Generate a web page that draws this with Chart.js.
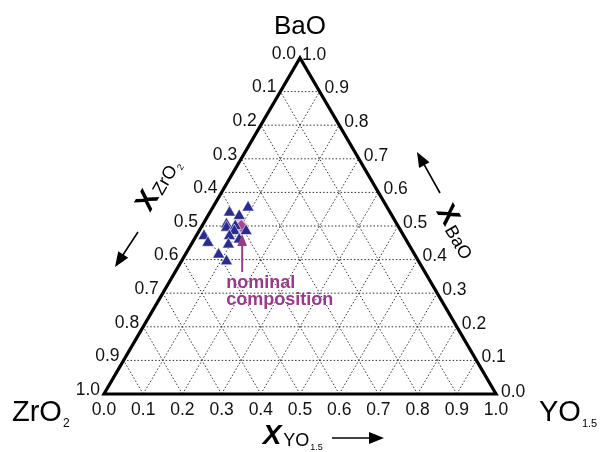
<!DOCTYPE html>
<html>
<head>
<meta charset="utf-8">
<script src="https://cdn.jsdelivr.net/npm/chart.js@4/dist/chart.umd.min.js"></script>
<style>
  body { margin: 0; background: #fff; }
  canvas { display: block; }
</style>
</head>
<body>
<canvas id="ternaryChart" width="603" height="452"></canvas>
<script>
// measured compositions (mole fractions)
const sampleYO15 = [0.050, 0.090, 0.080, 0.060, 0.065, 0.085, 0.090, 0.120, 0.085, 0.115, 0.020, 0.040, 0.095, 0.085, 0.115];
const sampleBaO  = [0.540, 0.555, 0.530, 0.505, 0.495, 0.500, 0.485, 0.485, 0.470, 0.460, 0.470, 0.450, 0.445, 0.415, 0.395];
const nominalYO15 = [0.10];
const nominalBaO  = [0.50];
const tickLabels = ['0.0', '0.1', '0.2', '0.3', '0.4', '0.5', '0.6', '0.7', '0.8', '0.9', '1.0'];

const FONT = '"Liberation Sans", Arial, sans-serif';
const PURPLE = '#973c89';

// ternary -> cartesian (x along base, y = BaO)
function toXY(yo, bao) {
  return { x: yo + bao / 2, y: bao };
}

const samplePoints = sampleYO15.map((a, i) => toXY(a, sampleBaO[i]));
const nominalPoints = nominalYO15.map((a, i) => toXY(a, nominalBaO[i]));

function line(ctx, p, q) {
  ctx.beginPath();
  ctx.moveTo(p[0], p[1]);
  ctx.lineTo(q[0], q[1]);
  ctx.stroke();
}

function arrow(ctx, x1, y1, x2, y2, head, color, width) {
  const ang = Math.atan2(y2 - y1, x2 - x1);
  ctx.save();
  ctx.strokeStyle = color;
  ctx.fillStyle = color;
  ctx.lineWidth = width;
  ctx.beginPath();
  ctx.moveTo(x1, y1);
  ctx.lineTo(x2 - Math.cos(ang) * head * 0.8, y2 - Math.sin(ang) * head * 0.8);
  ctx.stroke();
  ctx.beginPath();
  ctx.moveTo(x2, y2);
  ctx.lineTo(x2 - head * Math.cos(ang) + head * 0.4 * Math.sin(ang), y2 - head * Math.sin(ang) - head * 0.4 * Math.cos(ang));
  ctx.lineTo(x2 - head * Math.cos(ang) - head * 0.4 * Math.sin(ang), y2 - head * Math.sin(ang) + head * 0.4 * Math.cos(ang));
  ctx.closePath();
  ctx.fill();
  ctx.restore();
}

// big "X" with a subscript formula, drawn at origin of current transform
function axisTitle(ctx, sub, subSub, italic) {
  ctx.fillStyle = '#000';
  ctx.textBaseline = 'alphabetic';
  ctx.textAlign = 'left';
  ctx.font = (italic ? 'italic ' : '') + 'bold 28px ' + FONT;
  const xw = ctx.measureText('X').width;
  ctx.fillText('X', -xw / 2, 10);
  ctx.font = '18px ' + FONT;
  const sw = ctx.measureText(sub).width;
  ctx.fillText(sub, xw / 2 + 2, 12);
  if (subSub) {
    ctx.font = '9px ' + FONT;
    ctx.fillText(subSub, xw / 2 + 3 + sw, 16);
  }
}

const ternaryPlugin = {
  id: 'ternary',
  beforeDatasetsDraw(chart) {
    const ctx = chart.ctx;
    const xs = chart.scales.x, ys = chart.scales.y;
    const P = (a, b) => [xs.getPixelForValue(a + b / 2), ys.getPixelForValue(b)];

    ctx.save();
    ctx.strokeStyle = '#333';
    ctx.lineWidth = 1;
    ctx.setLineDash([1.5, 2]);
    for (let k = 1; k < 10; k++) {
      const t = k / 10;
      line(ctx, P(0, t), P(1 - t, t));       // constant BaO
      line(ctx, P(t, 0), P(t, 1 - t));       // constant YO1.5
      line(ctx, P(1 - t, 0), P(0, 1 - t));   // constant ZrO2
    }
    ctx.setLineDash([]);
    ctx.strokeStyle = '#000';
    ctx.lineWidth = 3.2;
    ctx.lineJoin = 'miter';
    const A = P(0, 0), B = P(1, 0), C = P(0, 1);
    ctx.beginPath();
    ctx.moveTo(A[0], A[1]);
    ctx.lineTo(B[0], B[1]);
    ctx.lineTo(C[0], C[1]);
    ctx.closePath();
    ctx.stroke();
    ctx.restore();
  },
  afterDatasetsDraw(chart) {
    const ctx = chart.ctx;
    const xs = chart.scales.x, ys = chart.scales.y;
    const P = (a, b) => [xs.getPixelForValue(a + b / 2), ys.getPixelForValue(b)];

    ctx.save();
    ctx.fillStyle = '#111';
    ctx.font = '17.5px ' + FONT;
    ctx.textBaseline = 'middle';

    // bottom axis: YO1.5
    ctx.textAlign = 'center';
    tickLabels.forEach((lab, k) => {
      const p = P(k / 10, 0);
      ctx.fillText(lab, p[0], p[1] + 16);
    });
    // left axis: ZrO2
    ctx.textAlign = 'right';
    tickLabels.forEach((lab, k) => {
      const p = P(0, 1 - k / 10);
      ctx.fillText(lab, p[0] - 4, p[1] - 4);
    });
    // right axis: BaO
    ctx.textAlign = 'left';
    tickLabels.forEach((lab, k) => {
      const p = P(1 - k / 10, k / 10);
      ctx.fillText(lab, p[0] + (k === 10 ? 2 : 5), p[1] - (k === 0 ? 2 : 3));
    });

    // corner labels
    const A = P(0, 0), B = P(1, 0), C = P(0, 1);
    ctx.textBaseline = 'alphabetic';
    ctx.textAlign = 'center';
    ctx.font = '26px ' + FONT;
    ctx.fillStyle = '#000';
    ctx.fillText('BaO', C[0], C[1] - 24);

    ctx.textAlign = 'left';
    ctx.font = '29px ' + FONT;
    ctx.fillText('ZrO', A[0] - 92, A[1] + 27);
    let w = ctx.measureText('ZrO').width;
    ctx.font = '12px ' + FONT;
    ctx.fillText('2', A[0] - 92 + w + 1, A[1] + 33);

    ctx.font = '29px ' + FONT;
    ctx.fillText('YO', B[0] + 43, B[1] + 27);
    w = ctx.measureText('YO').width;
    ctx.font = '11px ' + FONT;
    ctx.fillText('1.5', B[0] + 43 + w + 1, B[1] + 33);

    // axis titles
    ctx.save();
    ctx.translate(A[0] + 42, A[1] - 194);
    ctx.rotate(Math.atan2(C[1] - A[1], C[0] - A[0]));
    axisTitle(ctx, 'ZrO', '2', false);
    ctx.restore();

    ctx.save();
    ctx.translate(B[0] - 47, B[1] - 180);
    ctx.rotate(Math.atan2(B[1] - C[1], B[0] - C[0]));
    axisTitle(ctx, 'BaO', null, false);
    ctx.restore();

    ctx.save();
    ctx.translate((A[0] + B[0]) / 2 - 28, A[1] + 40);
    axisTitle(ctx, 'YO', '1.5', true);
    ctx.restore();

    arrow(ctx, A[0] + 34, A[1] - 162, A[0] + 11, A[1] - 127, 15, '#000', 1.6);
    arrow(ctx, B[0] - 56, B[1] - 201, B[0] - 79, B[1] - 242, 15, '#000', 1.6);
    arrow(ctx, (A[0] + B[0]) / 2 + 32, A[1] + 44, (A[0] + B[0]) / 2 + 84, A[1] + 44, 15, '#000', 1.6);

    // nominal composition annotation
    const n = P(nominalYO15[0], nominalBaO[0]);
    arrow(ctx, n[0] + 1, n[1] + 46, n[0] + 1, n[1] + 8, 12, PURPLE, 2);
    ctx.fillStyle = PURPLE;
    ctx.font = 'bold 18px ' + FONT;
    ctx.textAlign = 'left';
    ctx.fillText('nominal', n[0] - 15, n[1] + 62);
    ctx.fillText('composition', n[0] - 15, n[1] + 79);
    ctx.restore();
  }
};

new Chart(document.getElementById('ternaryChart'), {
  type: 'scatter',
  data: {
    datasets: [
      {
        label: 'samples',
        data: samplePoints,
        pointStyle: 'triangle',
        pointRadius: 7,
        backgroundColor: '#2b2d8e',
        borderColor: 'rgba(255,255,255,0.7)',
        borderWidth: 0.8,
        clip: false
      },
      {
        label: 'nominal composition',
        data: nominalPoints,
        pointStyle: 'rectRot',
        pointRadius: 7,
        backgroundColor: '#a6468f',
        borderColor: '#e6c8de',
        borderWidth: 1.5,
        clip: false
      }
    ]
  },
  options: {
    responsive: false,
    animation: false,
    devicePixelRatio: 1,
    layout: { padding: { left: 104, right: 107, top: 58, bottom: 58 } },
    plugins: {
      legend: { display: false },
      tooltip: { enabled: false }
    },
    scales: {
      x: { type: 'linear', min: 0, max: 1, display: false },
      y: { type: 'linear', min: 0, max: 1, display: false }
    }
  },
  plugins: [ternaryPlugin]
});
</script>
</body>
</html>
